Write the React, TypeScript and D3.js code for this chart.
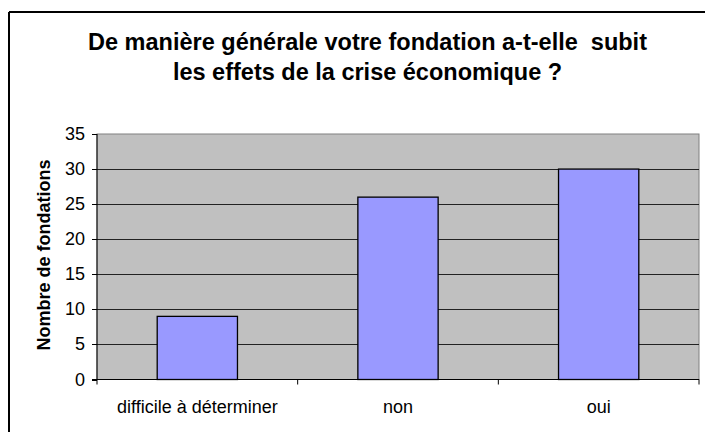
import React from "react";
import * as d3 from "d3";

const categories = ["difficile à déterminer", "non", "oui"];
const values = [9, 26, 30];
const yTicks = [0, 5, 10, 15, 20, 25, 30, 35];
const titleLines = [
  "De manière générale votre fondation a-t-elle  subit",
  "les effets de la crise économique ?",
];
const yLabel = "Nombre de fondations";

export default function App() {
  const W = 705, H = 432;
  const left = 97, right = 699, top = 134, bottom = 379.5;
  const x = d3.scaleBand<string>().domain(categories).range([left, right]).paddingInner(0.6).paddingOuter(0.3);
  const xOuter = d3.scaleBand<string>().domain(categories).range([left, right]);
  const y = d3.scaleLinear().domain([0, 35]).range([bottom, top]);
  const font = "Arial, 'Liberation Sans', sans-serif";
  return (
    <svg width={W} height={H} style={{ position: "absolute", left: 0, top: 0 }} fontFamily={font}>
      <rect x={0} y={0} width={W} height={H} fill="#fff" />
      <line x1={9} y1={12} x2={W + 5} y2={12} stroke="#000" strokeWidth={2} />
      <line x1={9} y1={12} x2={9} y2={H + 5} stroke="#000" strokeWidth={2} />
      {titleLines.map((t, i) => (
        <text key={i} x={367.5} y={50 + i * 30} textAnchor="middle" fontSize={23.5} fontWeight="bold" style={{ whiteSpace: "pre" }}>{t}</text>
      ))}
      <rect x={left} y={top} width={right - left} height={bottom - top} fill="#C0C0C0" stroke="#808080" strokeWidth={1} />
      {yTicks.filter(v => v > 0 && v < 35).map(v => (
        <line key={v} x1={left} x2={right} y1={Math.round(y(v)) + 0.5} y2={Math.round(y(v)) + 0.5} stroke="#222" strokeWidth={1} />
      ))}
      {categories.map((c, i) => (
        <rect key={c} x={x(c)!} y={y(values[i])} width={x.bandwidth()} height={bottom - y(values[i])} fill="#9999FF" stroke="#000" strokeWidth={1.3} />
      ))}
      <line x1={left} x2={left} y1={top} y2={bottom} stroke="#000" />
      <line x1={left - 5} x2={right} y1={bottom} y2={bottom} stroke="#000" />
      {yTicks.map(v => (
        <g key={v}>
          <line x1={left - 5} x2={left} y1={Math.round(y(v)) + 0.5} y2={Math.round(y(v)) + 0.5} stroke="#000" />
          <text x={85} y={y(v) + 6} textAnchor="end" fontSize={18}>{v}</text>
        </g>
      ))}
      {categories.map((c, i) => (
        <g key={c}>
          <line x1={xOuter(c)!} x2={xOuter(c)!} y1={bottom} y2={bottom + 5} stroke="#000" />
          {i === categories.length - 1 && (
            <line x1={right} x2={right} y1={bottom} y2={bottom + 5} stroke="#000" />
          )}
          <text x={xOuter(c)! + xOuter.bandwidth() / 2} y={413} textAnchor="middle" fontSize={18}>{c}</text>
        </g>
      ))}
      <text transform={`translate(50, ${255}) rotate(-90)`} textAnchor="middle" fontSize={18} fontWeight="bold">{yLabel}</text>
    </svg>
  );
}
